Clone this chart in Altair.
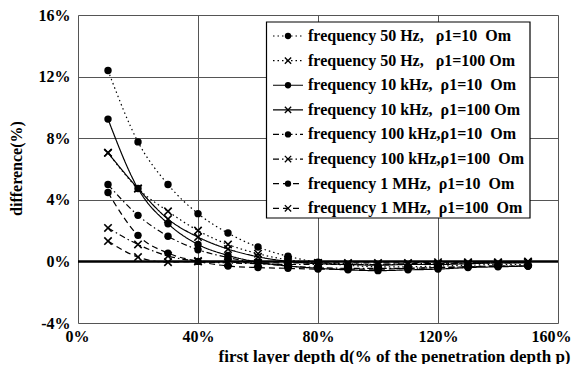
import altair as alt
import pandas as pd

depth = [10, 20, 30, 40, 50, 60, 70, 80, 90, 100, 110, 120, 130, 140, 150]

series_names = [
    "f50_r10", "f50_r100", "f10k_r10", "f10k_r100",
    "f100k_r10", "f100k_r100", "f1M_r10", "f1M_r100",
]
NB = "\u00a0"
legend_labels = [
    "frequency 50 Hz," + NB * 3 + "\u03c11=10" + NB * 2 + "Om",
    "frequency 50 Hz," + NB * 3 + "\u03c11=100" + NB + "Om",
    "frequency 10 kHz," + NB * 2 + "\u03c11=10" + NB * 2 + "Om",
    "frequency 10 kHz," + NB * 2 + "\u03c11=100" + NB + "Om",
    "frequency 100 kHz,\u03c11=10" + NB * 2 + "Om",
    "frequency 100 kHz,\u03c11=100" + NB * 2 + "Om",
    "frequency 1 MHz," + NB * 2 + "\u03c11=10" + NB * 2 + "Om",
    "frequency 1 MHz," + NB * 2 + "\u03c11=100" + NB * 2 + "Om",
]
markers = ["dot", "x", "dot", "x", "dot", "x", "dot", "x"]

f50_r10 = [12.4, 7.76, 4.99, 3.1, 1.84, 0.93, 0.33, -0.05, -0.25, -0.35, -0.35, -0.3, -0.25, -0.2, -0.2]
f50_r100 = [7.05, 4.73, 3.25, 2.0, 1.1, 0.5, 0.1, -0.1, -0.15, -0.2, -0.2, -0.15, -0.1, -0.1, -0.05]
f10k_r10 = [9.24, 4.73, 2.45, 1.1, 0.39, -0.05, -0.3, -0.45, -0.55, -0.6, -0.55, -0.5, -0.4, -0.35, -0.3]
f10k_r100 = [7.05, 4.73, 2.75, 1.58, 0.8, 0.3, 0.0, -0.15, -0.2, -0.25, -0.2, -0.2, -0.15, -0.1, -0.1]
f100k_r10 = [4.99, 2.99, 1.63, 0.76, 0.25, -0.1, -0.3, -0.4, -0.45, -0.45, -0.45, -0.4, -0.35, -0.3, -0.3]
f100k_r100 = [2.17, 1.1, 0.35, 0.02, -0.1, -0.15, -0.2, -0.2, -0.2, -0.2, -0.15, -0.15, -0.1, -0.1, -0.05]
f1M_r10 = [4.47, 1.69, 0.54, 0.0, -0.3, -0.4, -0.45, -0.5, -0.5, -0.5, -0.45, -0.4, -0.35, -0.3, -0.3]
f1M_r100 = [1.32, 0.28, -0.05, 0.0, -0.05, -0.1, -0.1, -0.1, -0.1, -0.1, -0.1, -0.05, -0.05, -0.05, 0.0]

values = [f50_r10, f50_r100, f10k_r10, f10k_r100, f100k_r10, f100k_r100, f1M_r10, f1M_r100]

dash_range = [[1.5, 3], [1.5, 3], [1, 0], [1, 0], [6, 3, 1.5, 3], [6, 3, 1.5, 3], [6, 4], [6, 4]]

x_ticks = [0, 40, 80, 120, 160]
y_ticks = [-4, 0, 4, 8, 12, 16]

rows = []
for name, mk, vals in zip(series_names, markers, values):
    for d, v in zip(depth, vals):
        rows.append({"series": name, "marker": mk, "depth": d, "diff": v})
df = pd.DataFrame(rows)

leg = pd.DataFrame({
    "row": list(range(len(series_names))),
    "series": series_names,
    "label": legend_labels,
    "marker": markers,
})

FONT = "Liberation Serif, Times New Roman, Times, serif"
dash_scale = alt.Scale(domain=series_names, range=dash_range)
xs = alt.Scale(domain=[0, 160], nice=False)
ys = alt.Scale(domain=[-4, 16], nice=False)

X = alt.X("depth:Q", scale=xs, axis=alt.Axis(
    values=x_ticks, labelExpr="datum.value + '%'", grid=True,
    labelFlush=True, labelFlushOffset=13,
    title="first layer depth d(% of the penetration depth p)",
    titleAlign="right", titleX=492, titleY=33, titleBaseline="middle",
    titleFont=FONT, titleFontSize=17, titleFontWeight="bold",
    labelFont=FONT, labelFontSize=16, labelFontWeight="bold", labelPadding=5,
    labelColor="black", titleColor="black",
    ticks=False, domain=False, gridColor="#555", gridWidth=1, gridOpacity=1,
))
Y = alt.Y("diff:Q", scale=ys, axis=alt.Axis(
    values=y_ticks, labelExpr="datum.value + '%'", grid=True, labelFlush=False,
    title="difference(%)", titleX=-62, titleY=153, titleAlign="center",
    titleBaseline="middle", titleAngle=270,
    titleFont=FONT, titleFontSize=16, titleFontWeight="bold",
    labelFont=FONT, labelFontSize=16, labelFontWeight="bold", labelPadding=8,
    labelColor="black", titleColor="black",
    ticks=False, domain=False, gridColor="#555", gridWidth=1, gridOpacity=1,
))

base = alt.Chart(df)
lines = base.mark_line(color="black", strokeWidth=1.2, interpolate="monotone").encode(
    x=X, y=Y, detail="series:N",
    strokeDash=alt.StrokeDash("series:N", scale=dash_scale, legend=None),
)
dots = base.transform_filter(alt.datum.marker == "dot").mark_point(
    shape="circle", filled=True, color="black", size=55, opacity=1
).encode(x="depth:Q", y="diff:Q")
crosses = base.transform_filter(alt.datum.marker == "x").mark_point(
    shape="M-1,-1L1,1M-1,1L1,-1", filled=False, color="black", size=55,
    strokeWidth=1.6, opacity=1
).encode(x="depth:Q", y="diff:Q")
zero = alt.Chart(pd.DataFrame({"z": [0]})).mark_rule(color="black", strokeWidth=2.5).encode(
    y=alt.Y("z:Q", scale=ys)
)

main = alt.layer(lines, zero, dots, crosses)

LY = alt.Y("row:Q", scale=alt.Scale(domain=[0, 7], range=[21, 193.3]), axis=None)
lbase = alt.Chart(leg)
box = alt.Chart(pd.DataFrame({"b": [0]})).mark_rect(
    fill="white", stroke="black", strokeWidth=1.2
).encode(x=alt.value(188.5), x2=alt.value(452), y=alt.value(7), y2=alt.value(203))
lrule = lbase.mark_rule(color="black", strokeWidth=1.2).encode(
    x=alt.value(195), x2=alt.value(225), y=LY,
    strokeDash=alt.StrokeDash("series:N", scale=dash_scale, legend=None),
)
ldot = lbase.transform_filter(alt.datum.marker == "dot").mark_point(
    shape="circle", filled=True, color="black", size=40, opacity=1
).encode(x=alt.value(210), y=LY)
lx = lbase.transform_filter(alt.datum.marker == "x").mark_point(
    shape="M-1,-1L1,1M-1,1L1,-1", filled=False, color="black", size=40,
    strokeWidth=1.3, opacity=1
).encode(x=alt.value(210), y=LY)
ltext = lbase.mark_text(
    align="left", baseline="middle", font=FONT, fontSize=16, fontWeight="bold", color="black"
).encode(x=alt.value(230), y=LY, text="label:N")

legend = alt.layer(box, lrule, ldot, lx, ltext)

chart = alt.layer(main, legend).resolve_scale(y="independent").properties(
    width=480, height=308,
    autosize=alt.AutoSizeParams(type="none"),
    padding={"left": 70, "top": 7, "right": 14, "bottom": 41},
).configure_view(stroke="black", strokeWidth=2).configure(background="white")

chart.save("out.html", embed_options={"renderer": "svg", "actions": False})
